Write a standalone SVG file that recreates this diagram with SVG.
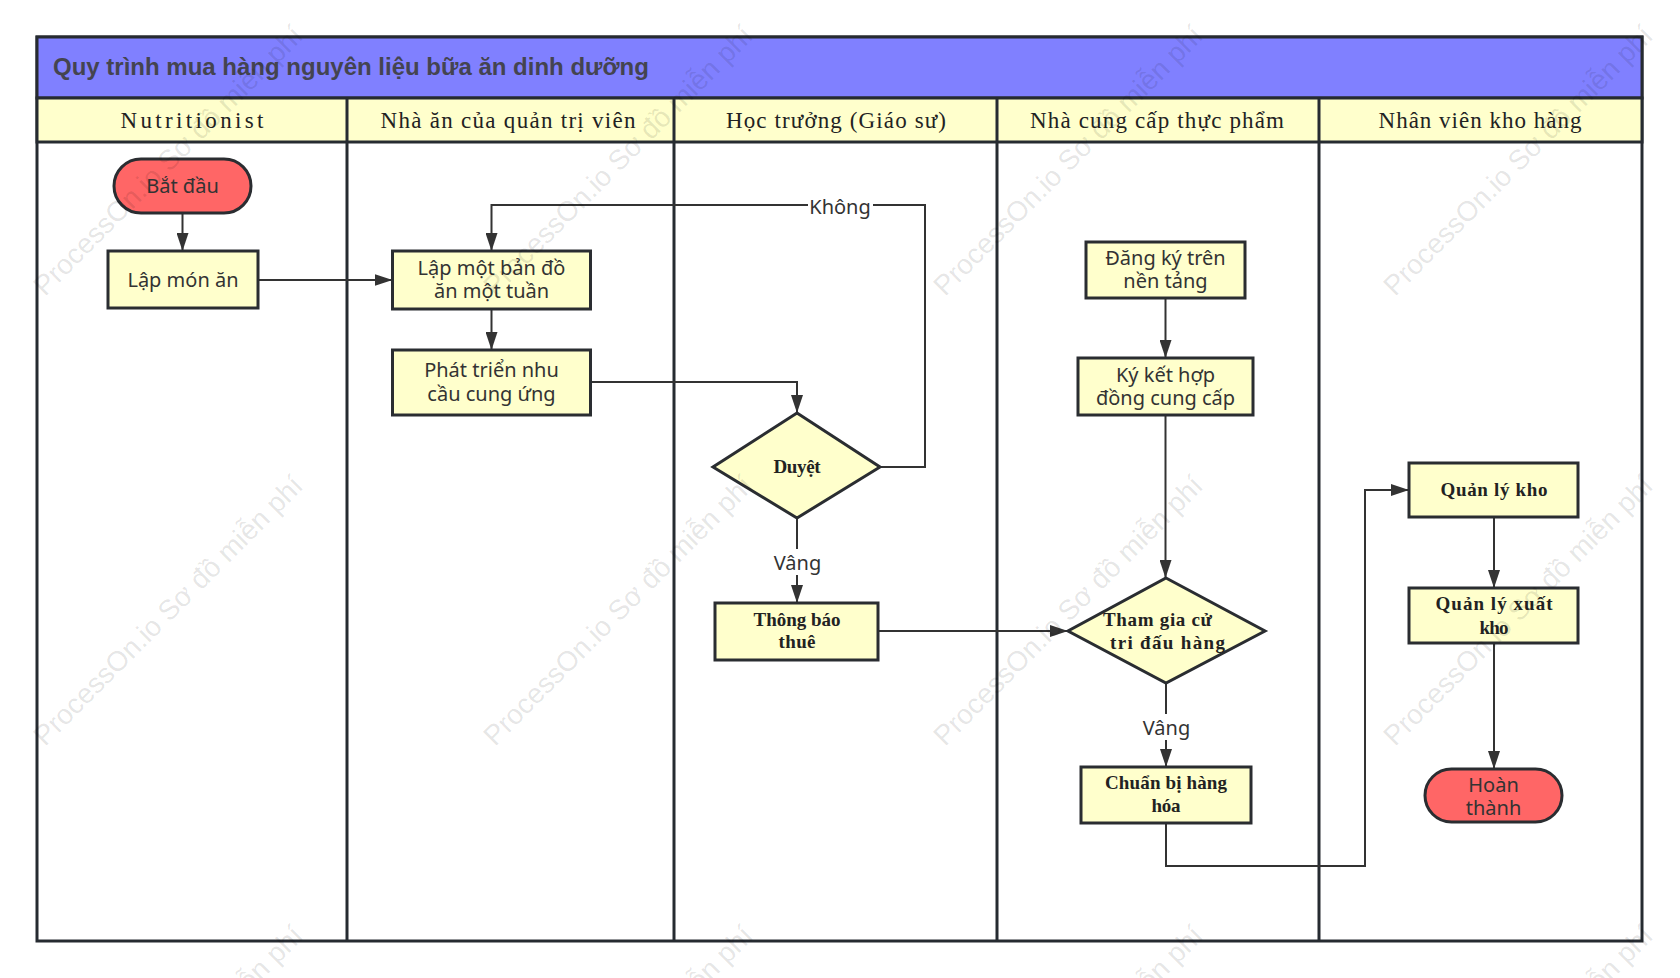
<svg xmlns="http://www.w3.org/2000/svg" width="1680" height="978" viewBox="0 0 1680 978">
<style>
.node{fill:#FFFFCC;stroke:#2a2d31;stroke-width:3}
.term{fill:#FF6666;stroke:#2a2d31;stroke-width:3}
.lane{stroke:#262b31;stroke-width:3;fill:none}
.sans{font-family:"Noto Sans","Open Sans","Liberation Sans",sans-serif;font-size:20px;fill:#333;text-anchor:middle}
.serif{font-family:"Liberation Serif","DejaVu Serif",serif;font-size:19px;font-weight:bold;fill:#222;text-anchor:middle}
.hdr{font-family:"Liberation Serif","DejaVu Serif",serif;font-size:23px;fill:#222;text-anchor:middle}
.conn{fill:none;stroke:#333;stroke-width:2}
.lblbg{fill:#fff;stroke:none}
.wm{font-family:"Liberation Sans",Arial,sans-serif;font-size:28px;fill:#000;fill-opacity:0.11}
</style>
<defs>
<marker id="arr" markerUnits="userSpaceOnUse" markerWidth="18" markerHeight="12" refX="18" refY="6" orient="auto">
<path d="M0,0 L18,6 L0,12 z" fill="#333"/>
</marker>
</defs>
<rect x="0" y="0" width="1680" height="978" fill="#fff"/>
<g id="pool">
<rect x="37" y="37" width="1605" height="904" fill="#fff" class="lane"/>
<rect x="37" y="37" width="1605" height="61" fill="#8080FF" stroke="#262b31" stroke-width="3"/>
<text x="53" y="75" font-family="'Liberation Sans',Arial,sans-serif" font-size="24" font-weight="bold" fill="#444450">Quy trình mua hàng nguyên liệu bữa ăn dinh dưỡng</text>
<rect x="37" y="98" width="1605" height="44" fill="#FFFFCC" stroke="#262b31" stroke-width="3"/>
<line class="lane" x1="347" y1="98" x2="347" y2="941"/>
<line class="lane" x1="674" y1="98" x2="674" y2="941"/>
<line class="lane" x1="997" y1="98" x2="997" y2="941"/>
<line class="lane" x1="1319" y1="98" x2="1319" y2="941"/>
<text class="hdr" x="192" y="128" textLength="143" lengthAdjust="spacing">Nutritionist</text>
<text class="hdr" x="508" y="128" textLength="255" lengthAdjust="spacing">Nhà ăn của quản trị viên</text>
<text class="hdr" x="836" y="128" textLength="220" lengthAdjust="spacing">Học trưởng (Giáo sư)</text>
<text class="hdr" x="1157" y="128" textLength="254" lengthAdjust="spacing">Nhà cung cấp thực phẩm</text>
<text class="hdr" x="1480" y="128" textLength="203" lengthAdjust="spacing">Nhân viên kho hàng</text>
</g>
<g id="connectors">
<path class="conn" d="M182.5,213 V251" marker-end="url(#arr)"/>
<path class="conn" d="M258,280 H392.5" marker-end="url(#arr)"/>
<path class="conn" d="M491.5,309 V350" marker-end="url(#arr)"/>
<path class="conn" d="M590.5,382 H797 V413" marker-end="url(#arr)"/>
<path class="conn" d="M880,467 H925 V205 H491.5 V251" marker-end="url(#arr)"/>
<rect class="lblbg" x="808" y="193" width="65" height="25"/>
<text class="sans" x="840" y="214">Không</text>
<path class="conn" d="M797,518 V603" marker-end="url(#arr)"/>
<rect class="lblbg" x="772" y="549" width="51" height="26"/>
<text class="sans" x="797.5" y="570">Vâng</text>
<path class="conn" d="M878,631 H1068" marker-end="url(#arr)"/>
<path class="conn" d="M1165.5,298 V358" marker-end="url(#arr)"/>
<path class="conn" d="M1165.5,415 V578" marker-end="url(#arr)"/>
<path class="conn" d="M1166,683 V767" marker-end="url(#arr)"/>
<rect class="lblbg" x="1141" y="714" width="51" height="26"/>
<text class="sans" x="1166.5" y="735">Vâng</text>
<path class="conn" d="M1166,823 V866 H1365 V490 H1409" marker-end="url(#arr)"/>
<path class="conn" d="M1494,517 V588" marker-end="url(#arr)"/>
<path class="conn" d="M1494,643 V769" marker-end="url(#arr)"/>
</g>
<g id="start">
<rect class="term" x="114" y="159" width="137" height="54" rx="27" ry="27"/>
<text class="sans" x="182.5" y="193">Bắt đầu</text>
</g>
<g id="lap-mon-an">
<rect class="node" x="108" y="251" width="150" height="57"/>
<text class="sans" x="183" y="287">Lập món ăn</text>
</g>
<g id="lap-ban-do">
<rect class="node" x="392.5" y="251" width="198" height="58"/>
<text class="sans" x="491.5" y="275">Lập một bản đồ</text>
<text class="sans" x="491.5" y="298">ăn một tuần</text>
</g>
<g id="phat-trien">
<rect class="node" x="392.5" y="350" width="198" height="65"/>
<text class="sans" x="491.5" y="377">Phát triển nhu</text>
<text class="sans" x="491.5" y="401">cầu cung ứng</text>
</g>
<g id="duyet">
<path class="node" d="M797,413 L880,467 L797,518 L713,467 Z"/>
<text class="serif" x="797" y="473" textLength="47" lengthAdjust="spacing">Duyệt</text>
</g>
<g id="thong-bao">
<rect class="node" x="715" y="603" width="163" height="57"/>
<text class="serif" x="797" y="626" textLength="87" lengthAdjust="spacing">Thông báo</text>
<text class="serif" x="797" y="648" textLength="37" lengthAdjust="spacing">thuê</text>
</g>
<g id="dang-ky">
<rect class="node" x="1086" y="242" width="159" height="56"/>
<text class="sans" x="1165.5" y="265">Đăng ký trên</text>
<text class="sans" x="1165.5" y="288">nền tảng</text>
</g>
<g id="ky-ket">
<rect class="node" x="1078" y="358" width="175" height="57"/>
<text class="sans" x="1165.5" y="382">Ký kết hợp</text>
<text class="sans" x="1165.5" y="405">đồng cung cấp</text>
</g>
<g id="tham-gia">
<path class="node" d="M1166,578 L1265,631 L1166,683 L1068,631 Z"/>
<text class="serif" x="1103" y="626" style="text-anchor:start" textLength="109" lengthAdjust="spacing">Tham gia cử</text>
<text class="serif" x="1110" y="649" style="text-anchor:start" textLength="115" lengthAdjust="spacing">tri đấu hàng</text>
</g>
<g id="chuan-bi">
<rect class="node" x="1081" y="767" width="170" height="56"/>
<text class="serif" x="1166" y="789" textLength="122" lengthAdjust="spacing">Chuẩn bị hàng</text>
<text class="serif" x="1166" y="812" textLength="29" lengthAdjust="spacing">hóa</text>
</g>
<g id="quan-ly-kho">
<rect class="node" x="1409" y="463" width="169" height="54"/>
<text class="serif" x="1494" y="496" textLength="107" lengthAdjust="spacing">Quản lý kho</text>
</g>
<g id="quan-ly-xuat">
<rect class="node" x="1409" y="588" width="169" height="55"/>
<text class="serif" x="1494" y="610" textLength="117" lengthAdjust="spacing">Quản lý xuất</text>
<text class="serif" x="1494" y="634" textLength="29" lengthAdjust="spacing">kho</text>
</g>
<g id="end">
<rect class="term" x="1425" y="769" width="137" height="53" rx="26.5" ry="26.5"/>
<text class="sans" x="1493.5" y="792">Hoàn</text>
<text class="sans" x="1493.5" y="815">thành</text>
</g>
<g id="watermark">
<text class="wm" x="45" y="297" transform="rotate(-45 45 297)">ProcessOn.io Sơ đồ miễn phí</text>
<text class="wm" x="495" y="297" transform="rotate(-45 495 297)">ProcessOn.io Sơ đồ miễn phí</text>
<text class="wm" x="945" y="297" transform="rotate(-45 945 297)">ProcessOn.io Sơ đồ miễn phí</text>
<text class="wm" x="1395" y="297" transform="rotate(-45 1395 297)">ProcessOn.io Sơ đồ miễn phí</text>
<text class="wm" x="45" y="747" transform="rotate(-45 45 747)">ProcessOn.io Sơ đồ miễn phí</text>
<text class="wm" x="495" y="747" transform="rotate(-45 495 747)">ProcessOn.io Sơ đồ miễn phí</text>
<text class="wm" x="945" y="747" transform="rotate(-45 945 747)">ProcessOn.io Sơ đồ miễn phí</text>
<text class="wm" x="1395" y="747" transform="rotate(-45 1395 747)">ProcessOn.io Sơ đồ miễn phí</text>
<text class="wm" x="45" y="1197" transform="rotate(-45 45 1197)">ProcessOn.io Sơ đồ miễn phí</text>
<text class="wm" x="495" y="1197" transform="rotate(-45 495 1197)">ProcessOn.io Sơ đồ miễn phí</text>
<text class="wm" x="945" y="1197" transform="rotate(-45 945 1197)">ProcessOn.io Sơ đồ miễn phí</text>
<text class="wm" x="1395" y="1197" transform="rotate(-45 1395 1197)">ProcessOn.io Sơ đồ miễn phí</text>
</g>
</svg>
